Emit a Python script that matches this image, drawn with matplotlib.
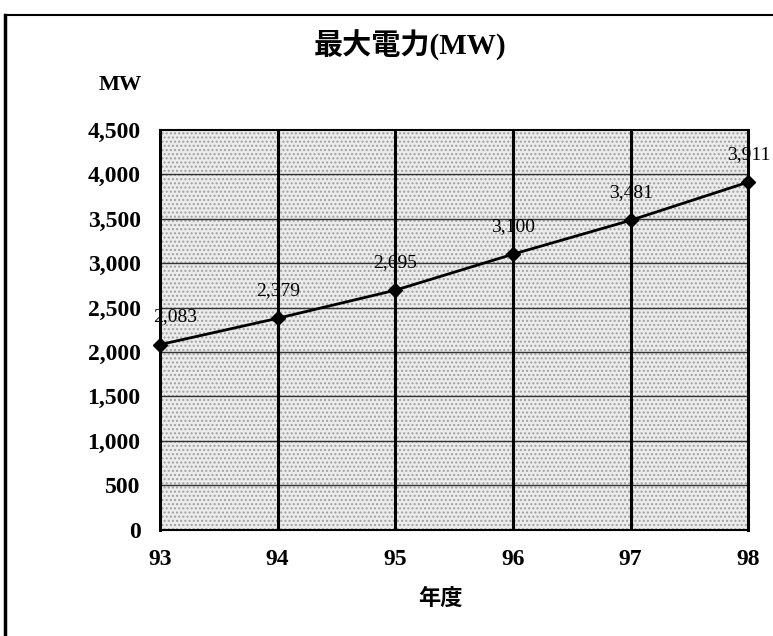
import matplotlib.pyplot as plt
from matplotlib.lines import Line2D

years = [93, 94, 95, 96, 97, 98]
peak_mw = [2083, 2379, 2695, 3100, 3481, 3911]
value_labels = ['2,083', '2,379', '2,695', '3,100', '3,481', '3,911']
y_ticks = [0, 500, 1000, 1500, 2000, 2500, 3000, 3500, 4000, 4500]

serif = ['Liberation Serif', 'Noto Sans CJK JP']
plt.rcParams['font.family'] = serif

fig = plt.figure(figsize=(7.73, 6.36), dpi=100)
ax = fig.add_axes([0.207, 0.167, 0.761, 0.629])

# stippled grey plot area
ax.set_facecolor('#ececec')
ax.fill_between([93, 98], 0, 4500, facecolor='none', edgecolor='#a0a0a0',
                hatch='....', linewidth=0, zorder=0)

ax.set_xlim(93, 98)
ax.set_ylim(0, 4500)
ax.set_xticks(years)
ax.set_yticks(y_ticks)
ax.set_yticklabels(['{:,}'.format(v) for v in y_ticks])

for v in y_ticks[1:-1]:
    ax.axhline(v, color='#333333', linewidth=1.0, zorder=1)
for x in years[1:-1]:
    ax.axvline(x, color='black', linewidth=2.2, zorder=1)

for s in ['left', 'right']:
    ax.spines[s].set_linewidth(2.2)
ax.spines['top'].set_linewidth(1.5)
ax.spines['bottom'].set_linewidth(1.5)

ax.tick_params(length=0, labelsize=17)
ax.tick_params(axis='x', pad=14)
ax.tick_params(axis='y', pad=14)
for lab in ax.get_xticklabels() + ax.get_yticklabels():
    lab.set_fontweight('bold')

ax.plot(years, peak_mw, color='black', linewidth=2, marker='D', markersize=7,
        clip_on=False, zorder=3)

for i, (x, y, t) in enumerate(zip(years, peak_mw, value_labels)):
    dx = 11 if i == 0 else 0
    ax.annotate(t, (x, y), xytext=(dx, 20), textcoords='offset points',
                ha='center', va='center', fontsize=14, zorder=4)

fig.text(0.53, 0.929, '最大電力(MW)', ha='center', va='center',
         fontsize=21, fontweight='bold')
fig.text(0.155, 0.866, 'MW', ha='center', va='center',
         fontsize=16, fontweight='bold')
fig.text(0.57, 0.057, '年度', ha='center', va='center',
         fontsize=16, fontweight='bold')

# outer frame on top and left
fig.add_artist(Line2D([0.007, 1.0], [0.977, 0.977], color='black', linewidth=1.5,
                      transform=fig.transFigure))
fig.add_artist(Line2D([0.007, 0.007], [0.0, 0.977], color='black', linewidth=2.5,
                      transform=fig.transFigure))

fig.savefig('out.png', dpi=100)
